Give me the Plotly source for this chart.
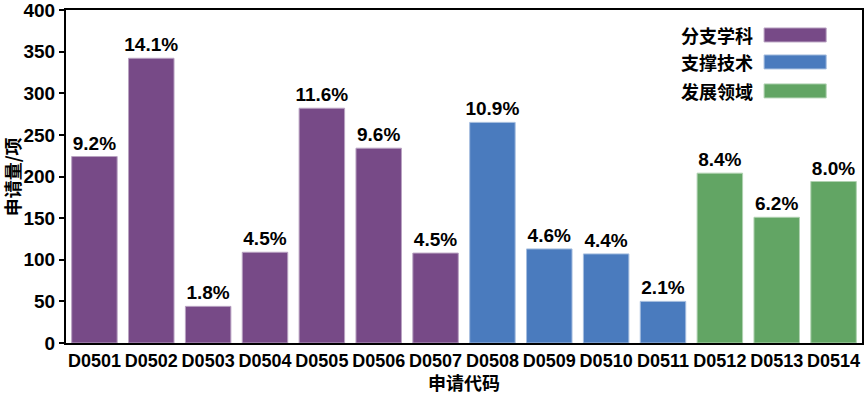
import plotly.graph_objects as go

codes = ["D0501", "D0502", "D0503", "D0504", "D0505", "D0506", "D0507",
         "D0508", "D0509", "D0510", "D0511", "D0512", "D0513", "D0514"]
counts = [224, 342, 44, 109, 282, 234, 108, 265, 113, 107, 50, 204, 151, 194]
shares = ["9.2%", "14.1%", "1.8%", "4.5%", "11.6%", "9.6%", "4.5%",
          "10.9%", "4.6%", "4.4%", "2.1%", "8.4%", "6.2%", "8.0%"]
groups = ["分支学科"] * 7 + ["支撑技术"] * 4 + ["发展领域"] * 3
group_names = ["分支学科", "支撑技术", "发展领域"]
group_colors = {"分支学科": "#774A87", "支撑技术": "#4A7BBE", "发展领域": "#62A564"}
edge_colors = {"分支学科": "#B9A3C2", "支撑技术": "#A5BDDF", "发展领域": "#B0D2B1"}
y_ticks = [0, 50, 100, 150, 200, 250, 300, 350, 400]

FONT = "Liberation Sans, Arial, Noto Sans CJK SC"
CJK = "Noto Sans CJK SC, Liberation Sans"

fig = go.Figure()
fig.add_trace(go.Bar(
    x=codes, y=counts,
    marker=dict(color=[group_colors[g] for g in groups],
                line=dict(color=[edge_colors[g] for g in groups], width=1)),
    text=[f"<b>{s}</b>" for s in shares],
    textposition="outside",
    constraintext="none",
    textfont=dict(family=FONT, size=19, color="black"),
    cliponaxis=False,
    showlegend=False,
    hoverinfo="skip",
))

# manual legend (text left, swatch right)
leg_y = [0.925, 0.844, 0.757]
for name, yy in zip(group_names, leg_y):
    fig.add_annotation(xref="paper", yref="paper", x=0.865, y=yy,
                       text=f"<b>{name}</b>", showarrow=False,
                       xanchor="right", yanchor="middle",
                       font=dict(family=CJK, size=18, color="black"))
    fig.add_shape(type="rect", xref="paper", yref="paper",
                  x0=0.877, x1=0.955, y0=yy - 0.021, y1=yy + 0.021,
                  fillcolor=group_colors[name],
                  line=dict(color=edge_colors[name], width=1))

# axis titles
fig.add_annotation(xref="paper", yref="paper", x=0.5, y=-0.117,
                   text="<b>申请代码</b>", showarrow=False,
                   xanchor="center", yanchor="middle",
                   font=dict(family=CJK, size=18, color="black"))
fig.add_annotation(xref="paper", yref="paper", x=-0.068, y=0.5,
                   text="<b>申请量/项</b>", showarrow=False, textangle=-90,
                   xanchor="center", yanchor="middle",
                   font=dict(family=CJK, size=18, color="black"))

fig.update_layout(
    width=864, height=394,
    margin=dict(l=66, r=2, t=10, b=51, autoexpand=False),
    plot_bgcolor="white", paper_bgcolor="white",
    bargap=0.2,
    font=dict(family=FONT, size=18, color="black"),
    xaxis=dict(
        showline=True, linecolor="black", linewidth=2, mirror=True,
        ticks="", tickfont=dict(family=FONT, size=18, weight="bold"),
        showgrid=False, automargin=False,
    ),
    yaxis=dict(
        range=[0, 400], tickmode="array", tickvals=y_ticks,
        ticktext=[str(v) for v in y_ticks],
        showline=True, linecolor="black", linewidth=2, mirror=True,
        ticks="outside", ticklen=5, tickwidth=2, tickcolor="black",
        tickfont=dict(family=FONT, size=19, weight="bold"),
        ticklabeloverflow="allow",
        showgrid=False, zeroline=False, automargin=False,
    ),
)

# remove the browser's default 8px body margin so the figure fills the window exactly
fig.write_html("out.html",
               config={"displayModeBar": False},
               post_script="document.body.style.margin='0';document.body.style.overflow='hidden';")
